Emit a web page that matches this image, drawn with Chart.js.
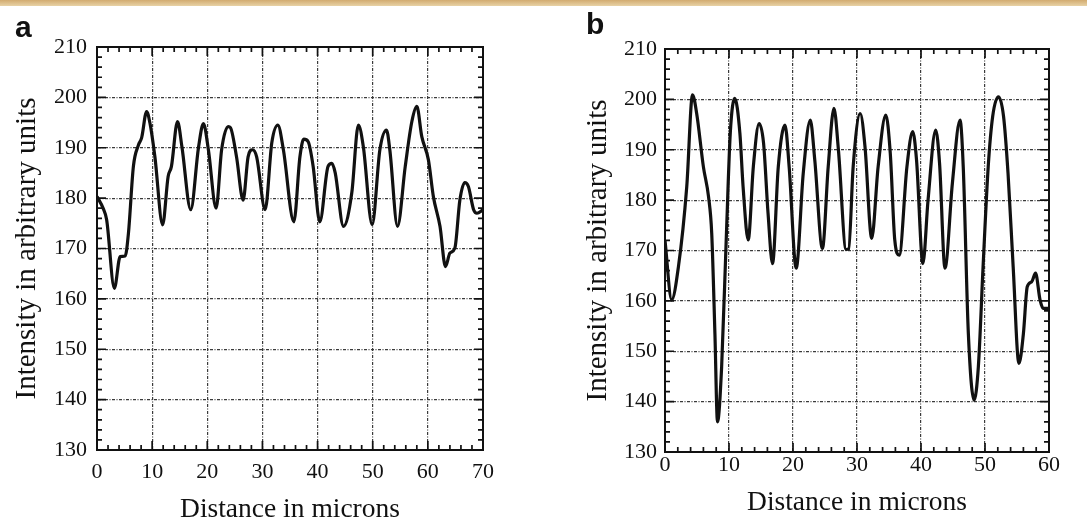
<!DOCTYPE html>
<html>
<head>
<meta charset="utf-8">
<script src="https://cdn.jsdelivr.net/npm/chart.js@4.4.0/dist/chart.umd.min.js"></script>
<style>
  body { margin: 0; background: #fff; width: 1087px; height: 524px; overflow: hidden; position: relative; }
  #strip { position: absolute; left: 0; top: 0; width: 1087px; height: 6px; background: linear-gradient(#d2ab70, #e8d2a6); }
  .panel { position: absolute; font: bold 30px "Liberation Sans", Arial, sans-serif; line-height: 1; color: #111; }
  #chartA { position: absolute; left: 0; top: 0; }
  #chartB { position: absolute; left: 540px; top: 0; }
</style>
</head>
<body>
<div id="strip"></div>
<canvas id="chartA" width="540" height="524"></canvas>
<canvas id="chartB" width="547" height="524"></canvas>
<div class="panel" style="left:15px;top:12px">a</div>
<div class="panel" style="left:586px;top:9px">b</div>
<script>
// panel a: distance (microns) / intensity
const distA = [0, 1.1, 1.75, 3.15, 4.2, 5.1, 5.7, 6.6, 7.5, 8.1, 9.0, 9.6, 10.5, 11.9, 12.9, 13.5, 14.6, 15.4, 17.0, 18.4,
  19.3, 20.2, 21.6, 22.6, 23.8, 24.2, 25.3, 26.5, 27.4, 28.2, 28.95, 30.5, 31.7, 32.8, 33.8, 35.7, 36.8, 37.5, 38.3, 39.2,
  40.4, 41.9, 42.6, 43.2, 44.7, 46.2, 47.4, 48.3, 49.9, 51.3, 52.5, 53.1, 54.5, 55.9, 57.1, 58.0, 58.9, 60.1, 61.0, 62.2,
  63.2, 64.0, 64.9, 65.8, 66.7, 67.35, 68.3, 68.9, 70];
const intA = [180.3, 178, 175.7, 162.1, 168.4, 168.5, 173, 186.3, 190.5, 192, 197.2, 194.9, 188.2, 174.7, 184.3, 186.3, 195.2, 190.2, 177.7, 190,
  194.8, 189.6, 178, 189.6, 194.2, 194, 188.2, 179.6, 188.2, 189.6, 188.2, 177.7, 191, 194.5, 189.6, 175.3, 188.2, 191.7, 191.2, 186.3,
  175.3, 186.3, 186.9, 185, 174.4, 181, 194.5, 190.2, 174.7, 189.6, 193.5, 189.6, 174.4, 186.3, 195.2, 198.2, 192.2, 187.6, 180.3, 174.4,
  166.4, 169.1, 170.1, 179.6, 183.1, 182.3, 177.7, 177, 177.7];

// panel b
const distB = [0, 1.04, 2.1, 3.4, 4.3, 4.95, 6.0, 6.8, 7.3, 7.8, 8.2, 8.85, 9.6, 10.2, 10.9, 11.7, 12.2, 13.0, 13.8, 14.7,
  15.4, 16.1, 16.8, 17.7, 18.75, 19.4, 20.5, 21.6, 22.7, 23.4, 24.6, 25.5, 26.4, 27.1, 28.3, 28.7, 29.4, 30.5, 31.25, 32.3,
  33.3, 34.5, 35.2, 35.9, 36.6, 37.8, 38.7, 39.3, 40.3, 41.1, 42.3, 42.9, 43.75, 44.9, 46.1, 46.6, 47.4, 48.3, 48.96, 49.7,
  50.5, 51.2, 52.1, 52.9, 53.6, 54.4, 55.3, 56.0, 56.6, 57.3, 57.9, 58.6, 59.1, 60];
const intB = [172, 160.2, 166.8, 182.7, 200.9, 197.2, 186.6, 180.7, 173.4, 153.5, 136, 146.9, 173.4, 193.3, 200.2, 193.3, 182.7, 172.1, 186.6, 195.2,
  191.3, 177.4, 167.4, 186.6, 194.9, 186.6, 166.5, 185.3, 195.9, 188, 170.4, 186.6, 198.2, 189.9, 170.2, 170.3, 186.6, 197.2, 190.6, 172.4,
  186.6, 196.9, 189.3, 172.1, 169.1, 186.6, 193.6, 188, 167.4, 180, 193.9, 187.3, 166.5, 183.3, 195.9, 186.6, 153.5, 140.3, 146.9, 166.8,
  186.6, 196.6, 200.5, 196.6, 185.3, 166.8, 147.6, 153.5, 162.8, 163.8, 165.5, 160.2, 158.5, 158.5];

const yMin = 130, yMax = 210;
const xTitle = "Distance in microns";
const yTitle = "Intensity in arbitrary units";
const serif = '"Liberation Serif", "Times New Roman", serif';

// box frame + inward minor ticks every 2 units
const frameTicks = {
  id: "frameTicks",
  afterDatasetsDraw(chart) {
    const { ctx, chartArea: a, scales: { x, y } } = chart;
    ctx.save();
    ctx.strokeStyle = "#111";
    ctx.lineWidth = 1.7;
    ctx.beginPath();
    for (let v = x.min; v <= x.max; v += 2) {
      const px = x.getPixelForValue(v);
      const len = v % 10 === 0 ? 9 : 5;
      ctx.moveTo(px, a.bottom); ctx.lineTo(px, a.bottom - len);
      ctx.moveTo(px, a.top); ctx.lineTo(px, a.top + len);
    }
    for (let v = y.min; v <= y.max; v += 2) {
      const py = y.getPixelForValue(v);
      const len = v % 10 === 0 ? 9 : 5;
      ctx.moveTo(a.left, py); ctx.lineTo(a.left + len, py);
      ctx.moveTo(a.right, py); ctx.lineTo(a.right - len, py);
    }
    ctx.stroke();
    ctx.lineWidth = 2;
    ctx.strokeRect(a.left, a.top, a.width, a.height);
    ctx.restore();
  }
};

function makeChart(id, xs, ys, xMax, g) {
  const pts = xs.map((d, i) => ({ x: d, y: ys[i] }));
  return new Chart(document.getElementById(id), {
    type: "line",
    data: {
      datasets: [{
        data: pts,
        borderColor: "#111",
        borderWidth: 3.2,
        pointRadius: 0,
        cubicInterpolationMode: "monotone",
        fill: false
      }]
    },
    options: {
      responsive: false,
      animation: false,
      layout: { padding: { left: g.padLeft, top: g.top, right: g.right, bottom: 0 } },
      plugins: { legend: { display: false }, tooltip: { enabled: false } },
      scales: {
        x: {
          type: "linear",
          min: 0,
          max: xMax,
          afterFit: s => { s.height = g.xh; s.paddingLeft = 0; s.paddingRight = 0; },
          grid: { color: "#3a3a3a", lineWidth: 1.2, drawTicks: false },
          border: { display: true, color: "#111", width: 2, dash: [3, 1.5, 1, 1.5] },
          ticks: { stepSize: 10, padding: g.xPad, color: "#111", font: { family: serif, size: 22 } },
          title: { display: true, text: xTitle, color: "#111", font: { family: serif, size: 27.5, lineHeight: 1 },
            padding: { top: 0, bottom: g.xTitlePad } }
        },
        y: {
          min: yMin,
          max: yMax,
          afterFit: s => { s.width = g.yw; s.paddingTop = 0; s.paddingBottom = 0; },
          grid: { color: "#3a3a3a", lineWidth: 1.2, drawTicks: false },
          border: { display: true, color: "#111", width: 2, dash: [3, 1.5, 1, 1.5] },
          ticks: { stepSize: 10, padding: g.yPad, color: "#111", font: { family: serif, size: 22 } },
          title: { display: true, text: yTitle, color: "#111", font: { family: serif, size: 29, lineHeight: 1 },
            padding: { top: g.yTitlePad, bottom: 0 } }
        }
      }
    },
    plugins: [frameTicks]
  });
}

makeChart("chartA", distA, intA, 70, { padLeft: 0, top: 47, right: 57, xh: 74, yw: 97, xPad: 9, yPad: 10, xTitlePad: 0, yTitlePad: 12.5 });
makeChart("chartB", distB, intB, 60, { padLeft: 0, top: 49, right: 38, xh: 72, yw: 125, xPad: 0, yPad: 8, xTitlePad: 7.5, yTitlePad: 43.5 });
</script>
</body>
</html>
